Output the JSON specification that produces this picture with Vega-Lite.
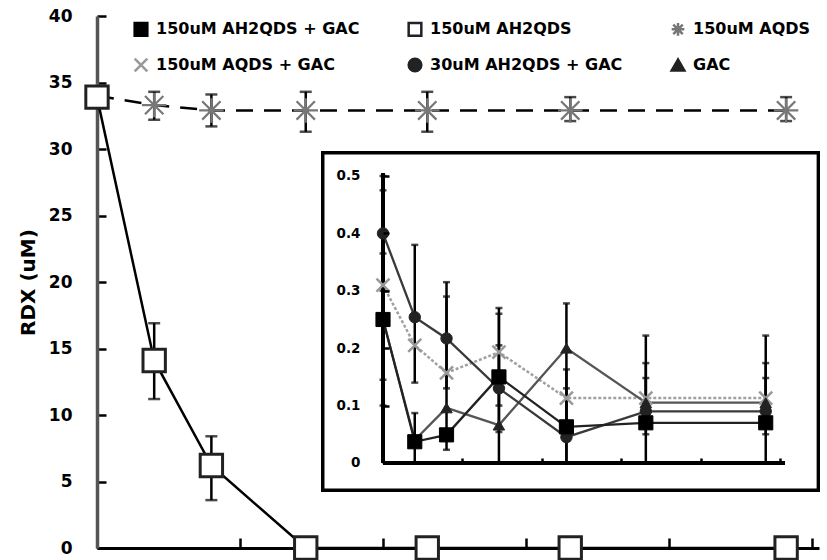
{
 "$schema": "https://vega.github.io/schema/vega-lite/v6.json",
 "width": 722, "height": 532, "autosize": "none",
 "padding": {"left": 97, "top": 16, "right": 8, "bottom": 12},
 "background": "white",
 "config": {"font": "DejaVu Sans", "view": {"stroke": null}, "legend": {"labelFont": "DejaVu Sans"}},
 "datasets": {
  "main": [
   {"series":"150uM AQDS","t":0,"v":34},{"series":"150uM AQDS","t":4,"v":33.3},{"series":"150uM AQDS","t":8,"v":32.9},{"series":"150uM AQDS","t":14.6,"v":32.9},{"series":"150uM AQDS","t":23.1,"v":32.9},{"series":"150uM AQDS","t":33.1,"v":32.9},{"series":"150uM AQDS","t":48.2,"v":32.9},
   {"series":"150uM AH2QDS","t":0,"v":33.9},{"series":"150uM AH2QDS","t":4,"v":14.1},{"series":"150uM AH2QDS","t":8,"v":6.2},{"series":"150uM AH2QDS","t":14.6,"v":0},{"series":"150uM AH2QDS","t":23.1,"v":0},{"series":"150uM AH2QDS","t":33.1,"v":0},{"series":"150uM AH2QDS","t":48.2,"v":0}
  ],
  "mainerr": [
   {"t":4,"v":32.2,"v2":34.3},{"t":8,"v":31.7,"v2":34.1},{"t":14.6,"v":31.3,"v2":34.3},{"t":23.1,"v":31.3,"v2":34.3},{"t":33.1,"v":32.1,"v2":33.9},{"t":48.2,"v":32.1,"v2":33.9},
   {"t":4,"v":11.2,"v2":16.9},{"t":8,"v":3.6,"v2":8.4}
  ],
  "inset": [
   {"series":"150uM AQDS + GAC","t":0,"v":0.31},{"series":"150uM AQDS + GAC","t":4,"v":0.205},{"series":"150uM AQDS + GAC","t":8,"v":0.157},{"series":"150uM AQDS + GAC","t":14.6,"v":0.193},{"series":"150uM AQDS + GAC","t":23.1,"v":0.113},{"series":"150uM AQDS + GAC","t":33.1,"v":0.113},{"series":"150uM AQDS + GAC","t":48.2,"v":0.113},
   {"series":"GAC","t":0,"v":0.25},{"series":"GAC","t":4,"v":0.04},{"series":"GAC","t":8,"v":0.096},{"series":"GAC","t":14.6,"v":0.066},{"series":"GAC","t":23.1,"v":0.2},{"series":"GAC","t":33.1,"v":0.105},{"series":"GAC","t":48.2,"v":0.105},
   {"series":"30uM AH2QDS + GAC","t":0,"v":0.4},{"series":"30uM AH2QDS + GAC","t":4,"v":0.254},{"series":"30uM AH2QDS + GAC","t":8,"v":0.217},{"series":"30uM AH2QDS + GAC","t":14.6,"v":0.13},{"series":"30uM AH2QDS + GAC","t":23.1,"v":0.045},{"series":"30uM AH2QDS + GAC","t":33.1,"v":0.09},{"series":"30uM AH2QDS + GAC","t":48.2,"v":0.09},
   {"series":"150uM AH2QDS + GAC","t":0,"v":0.25},{"series":"150uM AH2QDS + GAC","t":4,"v":0.037},{"series":"150uM AH2QDS + GAC","t":8,"v":0.049},{"series":"150uM AH2QDS + GAC","t":14.6,"v":0.15},{"series":"150uM AH2QDS + GAC","t":23.1,"v":0.063},{"series":"150uM AH2QDS + GAC","t":33.1,"v":0.07},{"series":"150uM AH2QDS + GAC","t":48.2,"v":0.07}
  ],
  "inseterr": [
   {"t":0,"v":0.30,"v2":0.50},{"t":0,"v":0.145,"v2":0.475},{"t":0,"v":0.10,"v2":0.365},
   {"t":4,"v":0.14,"v2":0.38},{"t":4,"v":0,"v2":0.087},
   {"t":8,"v":0.13,"v2":0.315},{"t":8,"v":0.023,"v2":0.29},
   {"t":14.6,"v":0,"v2":0.27},{"t":14.6,"v":0.10,"v2":0.26},{"t":14.6,"v":0.054,"v2":0.205},
   {"t":23.1,"v":0,"v2":0.278},{"t":23.1,"v":0,"v2":0.163},{"t":23.1,"v":0.06,"v2":0.13},
   {"t":33.1,"v":0,"v2":0.222},{"t":33.1,"v":0.05,"v2":0.174},{"t":33.1,"v":0.078,"v2":0.148},
   {"t":48.2,"v":0,"v2":0.222},{"t":48.2,"v":0.05,"v2":0.174},{"t":48.2,"v":0.078,"v2":0.148}
  ]
 },
 "layer": [
  {
   "data": {"name": "main"},
   "encoding": {
    "x": {"field": "t", "type": "quantitative", "scale": {"domain": [0, 50.5], "nice": false, "zero": false},
          "axis": {"values": [0,10,20,30,40,50], "labels": false, "title": null, "grid": false, "tickSize": -10, "tickWidth": 2.5, "tickColor": "black", "domainColor": "black", "domainWidth": 3}},
    "y": {"field": "v", "type": "quantitative", "scale": {"domain": [0, 40], "nice": false},
          "axis": {"values": [0,5,10,15,20,25,30,35,40], "title": "RDX (uM)", "titleFontSize": 20, "titleFontWeight": "bold", "titleColor": "black", "titlePadding": 10, "labelFontSize": 17, "labelFontWeight": "bold", "labelColor": "black", "labelPadding": 34, "tickSize": -9, "tickWidth": 2.5, "tickColor": "black", "domainColor": "#555", "domainWidth": 3.5, "grid": false}}
   },
   "layer": [
    {"transform": [{"filter": "datum.series == '150uM AH2QDS'"}], "mark": {"type": "line", "color": "black", "strokeWidth": 2.5}},
    {"transform": [{"filter": "datum.series == '150uM AQDS'"}], "mark": {"type": "line", "color": "black", "strokeWidth": 2.5, "strokeDash": [17, 11]}},
    {"data": {"name": "mainerr"}, "mark": {"type": "errorbar", "ticks": true, "size": 12, "thickness": 2.5, "color": "black"},
     "encoding": {"y2": {"field": "v2"}}},
    {"transform": [{"filter": "datum.series == '150uM AQDS'"}],
     "mark": {"type": "point", "filled": true, "strokeWidth": 2.2, "opacity": 1, "size": 600},
     "encoding": {
      "shape": {"field": "series", "type": "nominal",
        "scale": {"domain": ["150uM AH2QDS + GAC","150uM AH2QDS","150uM AQDS","150uM AQDS + GAC","30uM AH2QDS + GAC","GAC"],
                  "range": ["square","square","M-1,0L1,0M-0.75,-0.75L0.75,0.75M-0.75,0.75L0.75,-0.75M0,-1L0,1","M-1,-1L1,1M-1,1L1,-1","circle","triangle-up"]},
        "legend": {"orient": "none", "legendX": 36, "legendY": 5, "columns": 3, "direction": "horizontal", "title": null, "columnPadding": 43, "rowPadding": 12, "labelFontSize": 16, "labelFontWeight": "bold", "labelColor": "black", "symbolSize": 160, "symbolStrokeWidth": 2.5, "labelLimit": 400, "labelOffset": 7}},
      "fill": {"field": "series", "type": "nominal",
        "scale": {"domain": ["150uM AH2QDS + GAC","150uM AH2QDS","150uM AQDS","150uM AQDS + GAC","30uM AH2QDS + GAC","GAC"],
                  "range": ["black","white","#888","#aaa","#222","#222"]}},
      "stroke": {"field": "series", "type": "nominal",
        "scale": {"domain": ["150uM AH2QDS + GAC","150uM AH2QDS","150uM AQDS","150uM AQDS + GAC","30uM AH2QDS + GAC","GAC"],
                  "range": ["black","#222","#777","#999","#222","#222"]}}
     }},
    {"transform": [{"filter": "datum.series == '150uM AH2QDS'"}],
     "mark": {"type": "point", "filled": true, "strokeWidth": 3, "opacity": 1, "size": 500},
     "encoding": {
      "shape": {"field": "series", "type": "nominal"},
      "fill": {"field": "series", "type": "nominal"},
      "stroke": {"field": "series", "type": "nominal"}
     }}
   ]
  },
  {
   "data": {"name": "inset"},
   "encoding": {
    "x": {"field": "t", "type": "quantitative", "scale": {"domain": [-36.02, 54.91], "nice": false, "zero": false},
          "axis": {"orient": "bottom", "offset": -85, "values": [0,10,20,30,40,50], "labels": false, "domain": false, "tickSize": -5, "tickWidth": 2.5, "tickColor": "black", "title": null, "grid": false, "zindex": 1}},
    "y": {"field": "v", "type": "quantitative", "scale": {"domain": [-0.1481, 0.7787], "nice": false, "zero": false},
          "axis": {"orient": "left", "offset": -286, "values": [0,0.1,0.2,0.3,0.4,0.5], "format": "~g", "domain": false, "tickSize": -6, "tickWidth": 2.5, "tickColor": "black", "labelFontSize": 13.5, "labelFontWeight": "bold", "labelColor": "black", "labelPadding": 29, "title": null, "grid": false, "zindex": 1}}
   },
   "layer": [
    {"mark": {"type": "rect", "fill": "white", "stroke": "black", "strokeWidth": 3},
     "encoding": {
      "x": {"datum": -7.56, "type": "quantitative", "scale": {"domain": [-36.02, 54.91], "nice": false, "zero": false},
            "axis": {"orient": "bottom", "offset": -85, "values": [0,10,20,30,40,50], "labels": false, "domain": false, "tickSize": -5, "tickWidth": 2.5, "tickColor": "black", "title": null, "grid": false, "zindex": 1}},
      "x2": {"datum": 54.8},
      "y": {"datum": -0.047, "type": "quantitative", "scale": {"domain": [-0.1481, 0.7787], "nice": false, "zero": false},
            "axis": {"orient": "left", "offset": -286, "values": [0,0.1,0.2,0.3,0.4,0.5], "format": "~g", "domain": false, "tickSize": -6, "tickWidth": 2.5, "tickColor": "black", "labelFontSize": 13.5, "labelFontWeight": "bold", "labelColor": "black", "labelPadding": 29, "title": null, "grid": false, "zindex": 1}},
      "y2": {"datum": 0.54}}},
    {"mark": {"type": "rule", "color": "black", "strokeWidth": 3},
     "encoding": {
      "x": {"datum": 0, "type": "quantitative", "scale": {"domain": [-36.02, 54.91], "nice": false, "zero": false},
            "axis": {"orient": "bottom", "offset": -85, "values": [0,10,20,30,40,50], "labels": false, "domain": false, "tickSize": -5, "tickWidth": 2.5, "tickColor": "black", "title": null, "grid": false, "zindex": 1}},
      "x2": {"datum": 50.6},
      "y": {"datum": 0, "type": "quantitative", "scale": {"domain": [-0.1481, 0.7787], "nice": false, "zero": false},
            "axis": {"orient": "left", "offset": -286, "values": [0,0.1,0.2,0.3,0.4,0.5], "format": "~g", "domain": false, "tickSize": -6, "tickWidth": 2.5, "tickColor": "black", "labelFontSize": 13.5, "labelFontWeight": "bold", "labelColor": "black", "labelPadding": 29, "title": null, "grid": false, "zindex": 1}}}},
    {"mark": {"type": "rule", "color": "black", "strokeWidth": 3},
     "encoding": {
      "x": {"datum": 0, "type": "quantitative", "scale": {"domain": [-36.02, 54.91], "nice": false, "zero": false},
            "axis": {"orient": "bottom", "offset": -85, "values": [0,10,20,30,40,50], "labels": false, "domain": false, "tickSize": -5, "tickWidth": 2.5, "tickColor": "black", "title": null, "grid": false, "zindex": 1}},
      "y": {"datum": 0, "type": "quantitative", "scale": {"domain": [-0.1481, 0.7787], "nice": false, "zero": false},
            "axis": {"orient": "left", "offset": -286, "values": [0,0.1,0.2,0.3,0.4,0.5], "format": "~g", "domain": false, "tickSize": -6, "tickWidth": 2.5, "tickColor": "black", "labelFontSize": 13.5, "labelFontWeight": "bold", "labelColor": "black", "labelPadding": 29, "title": null, "grid": false, "zindex": 1}},
      "y2": {"datum": 0.504}}},
    {"transform": [{"filter": "datum.series == '150uM AQDS + GAC'"}], "mark": {"type": "line", "color": "#a0a0a0", "strokeWidth": 2.5, "strokeDash": [3, 2]}},
    {"transform": [{"filter": "datum.series == 'GAC'"}], "mark": {"type": "line", "color": "#555", "strokeWidth": 2.3}},
    {"transform": [{"filter": "datum.series == '30uM AH2QDS + GAC'"}], "mark": {"type": "line", "color": "#3a3a3a", "strokeWidth": 2.3}},
    {"transform": [{"filter": "datum.series == '150uM AH2QDS + GAC'"}], "mark": {"type": "line", "color": "#222", "strokeWidth": 2.3}},
    {"data": {"name": "inseterr"}, "mark": {"type": "errorbar", "ticks": true, "size": 7, "thickness": 2.5, "color": "black"},
     "encoding": {"y2": {"field": "v2"}}},
    {"transform": [{"filter": "datum.series == '150uM AQDS + GAC'"}],
     "mark": {"type": "point", "filled": true, "strokeWidth": 2.5, "opacity": 1, "size": 170},
     "encoding": {"shape": {"field": "series", "type": "nominal"}, "fill": {"field": "series", "type": "nominal"}, "stroke": {"field": "series", "type": "nominal"}}},
    {"transform": [{"filter": "datum.series == 'GAC'"}],
     "mark": {"type": "point", "filled": true, "strokeWidth": 1, "opacity": 1, "size": 130},
     "encoding": {"shape": {"field": "series", "type": "nominal"}, "fill": {"field": "series", "type": "nominal"}, "stroke": {"field": "series", "type": "nominal"}}},
    {"transform": [{"filter": "datum.series == '30uM AH2QDS + GAC'"}],
     "mark": {"type": "point", "filled": true, "strokeWidth": 1, "opacity": 1, "size": 130},
     "encoding": {"shape": {"field": "series", "type": "nominal"}, "fill": {"field": "series", "type": "nominal"}, "stroke": {"field": "series", "type": "nominal"}}},
    {"transform": [{"filter": "datum.series == '150uM AH2QDS + GAC'"}],
     "mark": {"type": "point", "filled": true, "strokeWidth": 1, "opacity": 1, "size": 200},
     "encoding": {"shape": {"field": "series", "type": "nominal"}, "fill": {"field": "series", "type": "nominal"}, "stroke": {"field": "series", "type": "nominal"}}}
   ]
  }
 ],
 "resolve": {"scale": {"x": "independent", "y": "independent"}}
}
